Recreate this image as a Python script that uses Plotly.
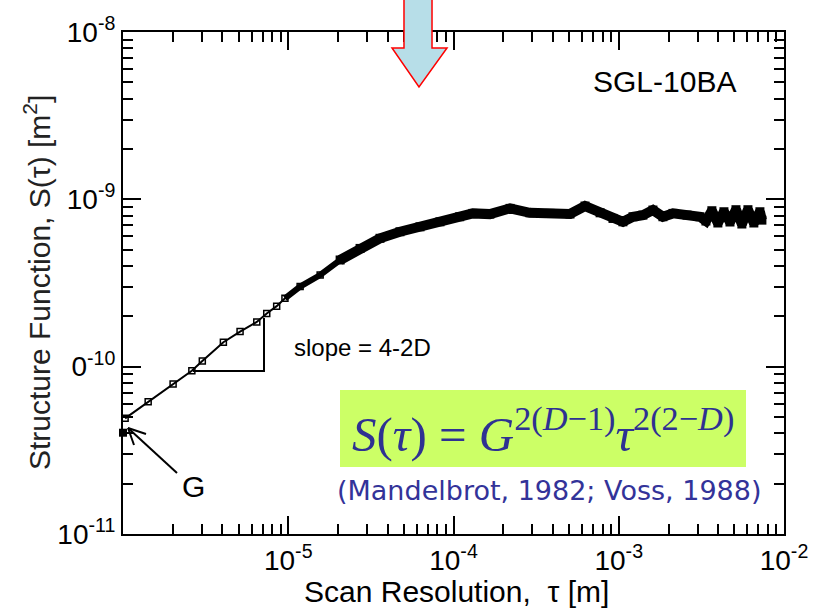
import plotly.graph_objects as go
import numpy as np

# ---------------- data ----------------
tau = [1.03e-6, 1.42e-6, 2.01e-6, 2.61e-6, 3.02e-6, 4.05e-6, 5.11e-6, 6.45e-6,
       7.41e-6, 8.51e-6, 9.55e-6, 1.18e-5, 1.56e-5, 2.06e-5, 2.72e-5, 3.59e-5,
       4.74e-5, 6.27e-5, 8.28e-5, 1.09e-4, 1.31e-4, 1.66e-4, 2.20e-4, 2.90e-4,
       3.84e-4, 5.07e-4, 6.25e-4, 7.71e-4, 9.23e-4, 1.06e-3, 1.22e-3, 1.40e-3,
       1.61e-3, 1.85e-3, 2.13e-3, 2.59e-3, 3.10e-3, 3.37e-3, 3.66e-3, 3.98e-3,
       4.33e-3, 4.71e-3, 5.12e-3, 5.56e-3, 6.05e-3, 6.57e-3, 7.15e-3, 7.35e-3]
S = [4.91e-11, 6.17e-11, 7.87e-11, 9.45e-11, 1.08e-10, 1.40e-10, 1.62e-10, 1.85e-10,
     2.08e-10, 2.30e-10, 2.56e-10, 3.01e-10, 3.53e-10, 4.34e-10, 5.09e-10, 5.85e-10,
     6.40e-10, 6.85e-10, 7.34e-10, 7.87e-10, 8.24e-10, 8.16e-10, 8.83e-10, 8.31e-10,
     8.24e-10, 8.17e-10, 9.12e-10, 8.31e-10, 7.69e-10, 7.34e-10, 7.87e-10, 8.05e-10,
     8.63e-10, 7.87e-10, 8.24e-10, 8.05e-10, 7.87e-10, 7.42e-10, 8.55e-10, 7.22e-10,
     8.43e-10, 7.32e-10, 8.67e-10, 7.12e-10, 8.67e-10, 7.22e-10, 8.43e-10, 7.51e-10]

G_tau = [1.0e-6]
G_S = [4.03e-11]

x_tickvals = [1e-6, 1e-5, 1e-4, 1e-3, 1e-2]
x_ticktext = ["", "10<sup>-5</sup>", "10<sup>-4</sup>", "10<sup>-3</sup>", "10<sup>-2</sup>"]
y_tickvals = [1e-11, 1e-10, 1e-9, 1e-8]
y_ticktext = ["10<sup>-11</sup>", "0<sup>-10</sup>", "10<sup>-9</sup>", "10<sup>-8</sup>"]

# ---------------- figure ----------------
tau_a = np.array(tau)
S_a = np.array(S)

fig = go.Figure()
# full curve: thin line + open squares
fig.add_trace(go.Scatter(
    x=tau, y=S, mode="lines+markers",
    line=dict(color="black", width=2),
    marker=dict(symbol="square-open", size=6, color="black", line=dict(width=1.5)),
    showlegend=False, hoverinfo="skip"))
# dense data region (overlapping markers form a thick band)
m1 = tau_a >= 9.5e-6
fig.add_trace(go.Scatter(
    x=tau_a[m1], y=S_a[m1], mode="lines",
    line=dict(color="black", width=6),
    showlegend=False, hoverinfo="skip"))
m2 = tau_a >= 2.0e-5
fig.add_trace(go.Scatter(
    x=tau_a[m2], y=S_a[m2], mode="lines+markers",
    line=dict(color="black", width=10),
    marker=dict(symbol="square", size=9, color="black"),
    showlegend=False, hoverinfo="skip"))
# G point
fig.add_trace(go.Scatter(
    x=G_tau, y=G_S, mode="markers",
    marker=dict(symbol="square", size=8, color="black"),
    cliponaxis=False, showlegend=False, hoverinfo="skip"))

AX_FONT = dict(family="Liberation Sans, Arial, sans-serif", size=28, color="black")
axis_common = dict(
    type="log", showgrid=False, zeroline=False,
    showline=True, linewidth=2, linecolor="black", mirror="ticks",
    ticks="inside", ticklen=18, tickwidth=2, tickcolor="black",
    tickfont=AX_FONT, tickmode="array",
    minor=dict(ticks="inside", ticklen=10, tickwidth=2, tickcolor="black",
               dtick="D1", showgrid=False),
)

fig.update_xaxes(range=[-6, -2], tickvals=x_tickvals, ticktext=x_ticktext, **axis_common)
fig.update_yaxes(range=[-11, -8], tickvals=y_tickvals, ticktext=y_ticktext, **axis_common)

# pixel -> paper helpers (plot area: x 123..784, y 32..534)
def px(x):
    return (x - 123) / 661.0

def py(y):
    return (534 - y) / 502.0

ann = []
ann.append(dict(text="Scan Resolution,  \u03c4 [m]", x=px(456), y=py(591), xref="paper", yref="paper",
                showarrow=False, xanchor="center", yanchor="middle",
                font=dict(family="Liberation Sans, Arial, sans-serif", size=30, color="black")))
ann.append(dict(text="Structure Function, S(\u03c4) [m<sup>2</sup>]", x=px(37), y=py(283),
                xref="paper", yref="paper", textangle=-90,
                showarrow=False, xanchor="center", yanchor="middle",
                font=dict(family="Liberation Sans, Arial, sans-serif", size=30, color="#222222")))
ann.append(dict(text="SGL-10BA", x=px(664), y=py(81), xref="paper", yref="paper",
                showarrow=False, xanchor="center", yanchor="middle",
                font=dict(family="Liberation Sans, Arial, sans-serif", size=30, color="black")))
ann.append(dict(text="slope = 4-2D", x=px(362), y=py(347), xref="paper", yref="paper",
                showarrow=False, xanchor="center", yanchor="middle",
                font=dict(family="Liberation Sans, Arial, sans-serif", size=24, color="black")))
ann.append(dict(text="G", x=px(193), y=py(486), xref="paper", yref="paper",
                showarrow=False, xanchor="center", yanchor="middle",
                font=dict(family="Liberation Sans, Arial, sans-serif", size=30, color="black")))
ann.append(dict(text="<i>S</i>(<i>\u03c4</i>) = <i>G</i><sup>2(<i>D</i>\u22121)</sup><i>\u03c4</i><sup>2(2\u2212<i>D</i>)</sup>",
                x=px(543), y=py(430), xref="paper", yref="paper",
                showarrow=False, xanchor="center", yanchor="middle",
                font=dict(family="Liberation Serif, Times New Roman, serif", size=49, color="#2E3192")))
ann.append(dict(text="(Mandelbrot, 1982; Voss, 1988)", x=px(549), y=py(490), xref="paper", yref="paper",
                showarrow=False, xanchor="center", yanchor="middle",
                font=dict(family="DejaVu Sans, Verdana, sans-serif", size=27, color="#333399")))

shapes = []
# green formula box
shapes.append(dict(type="rect", xref="paper", yref="paper", x0=px(340), x1=px(746),
                   y0=py(467), y1=py(390), fillcolor="#CCFF66", line=dict(width=0), layer="below"))
# slope triangle
shapes.append(dict(type="line", xref="paper", yref="paper", x0=px(193), x1=px(265),
                   y0=py(371), y1=py(371), line=dict(color="black", width=2)))
shapes.append(dict(type="line", xref="paper", yref="paper", x0=px(264), x1=px(264),
                   y0=py(371), y1=py(318), line=dict(color="black", width=2)))
# arrow to G
shapes.append(dict(type="line", xref="paper", yref="paper", x0=px(177), x1=px(128),
                   y0=py(473), y1=py(428), line=dict(color="black", width=2)))
shapes.append(dict(type="line", xref="paper", yref="paper", x0=px(128), x1=px(146),
                   y0=py(428), y1=py(434), line=dict(color="black", width=2)))
shapes.append(dict(type="line", xref="paper", yref="paper", x0=px(128), x1=px(134),
                   y0=py(428), y1=py(445), line=dict(color="black", width=2)))
# big down arrow at top
pts = [(404, -3), (432, -3), (432, 48), (447, 48), (419, 87), (392, 48), (404, 48)]
path = "M " + " L ".join(f"{px(a):.4f},{py(b):.4f}" for a, b in pts) + " Z"
shapes.append(dict(type="path", xref="paper", yref="paper", path=path,
                   fillcolor="#B7DEE8", line=dict(color="#FF0000", width=1.5), layer="above"))

fig.update_layout(
    width=835, height=608, autosize=False,
    margin=dict(l=123, r=51, t=32, b=74, pad=0),
    paper_bgcolor="white", plot_bgcolor="white",
    annotations=ann, shapes=shapes, showlegend=False,
)

fig.write_html("out.html", config={"displayModeBar": False},
               post_script="document.body.style.margin='0px';document.body.style.overflow='hidden';")
